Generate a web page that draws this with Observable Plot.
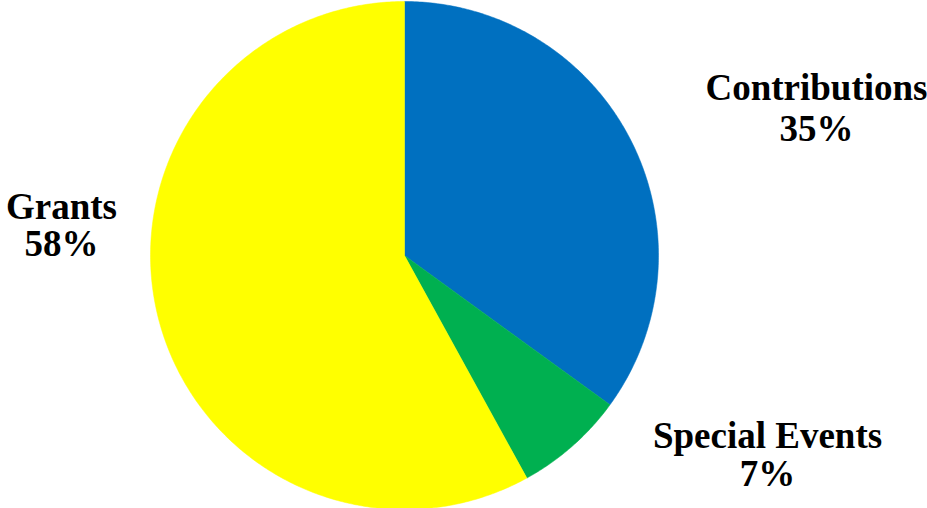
<!DOCTYPE html>
<html>
<head>
<meta charset="utf-8">
<script src="https://cdn.jsdelivr.net/npm/d3@7"></script>
<script src="https://cdn.jsdelivr.net/npm/@observablehq/plot@0.6"></script>
<style>
  html, body { margin: 0; padding: 0; background: #fff; }
  #chart { width: 927px; height: 508px; overflow: hidden; }
  #chart svg text, #chart svg tspan { font-family: "Liberation Serif", "Times New Roman", serif !important; font-weight: bold !important; }
</style>
</head>
<body>
<div id="chart"></div>
<script>
// ---- data ----
const categories = ["Contributions", "Special Events", "Grants"];
const shares = [35, 7, 58];
const colors = ["#0070C0", "#00B050", "#FFFF00"];

// ---- layout (pixels) ----
const W = 927, H = 508;
const cx = 404, cy = 255, R = 254;
const labelLayout = {
  "Contributions":  { x: 816, name: 99,  pct: 140 },
  "Special Events": { x: 767, name: 447, pct: 485 },
  "Grants":         { x: 61,  name: 218, pct: 255 }
};
const ux = px => (px - cx) / R;
const uy = py => (cy - py) / R;

// ---- slices from data ----
const pie = d3.pie().sort(null).value(d => d.value);
const arcs = pie(categories.map((c, i) => ({ category: c, value: shares[i] })));
const points = [];
for (const a of arcs) {
  const cat = a.data.category;
  points.push({ category: cat, x: 0, y: 0 });
  const n = Math.max(4, Math.ceil((a.endAngle - a.startAngle) / 0.01));
  for (let k = 0; k <= n; k++) {
    const t = a.startAngle + (a.endAngle - a.startAngle) * k / n;
    points.push({ category: cat, x: Math.sin(t), y: Math.cos(t) });
  }
  points.push({ category: cat, x: 0, y: 0 });
}

const labels = arcs.map(a => {
  const L = labelLayout[a.data.category];
  return {
    category: a.data.category,
    pct: `${a.data.value}%`,
    x: ux(L.x), yName: uy(L.name), yPct: uy(L.pct)
  };
});

const font = "Liberation Serif";

const chart = Plot.plot({
  width: W,
  height: H,
  margin: 0,
  style: { background: "#fff", overflow: "hidden", fontFamily: "Liberation Serif" },
  x: { domain: [-1, 1], range: [cx - R, cx + R], axis: null },
  y: { domain: [-1, 1], range: [cy + R, cy - R], axis: null },
  color: { domain: categories, range: colors },
  marks: [
    Plot.line(points, { x: "x", y: "y", z: "category", fill: "category", stroke: "category", strokeWidth: 0.5, curve: "linear" }),
    Plot.text(labels, { x: "x", y: "yName", text: "category", lineAnchor: "bottom", fontSize: 37, fontWeight: "bold", fontFamily: font, fill: "#000" }),
    Plot.text(labels, { x: "x", y: "yPct", text: "pct", lineAnchor: "bottom", fontSize: 37, fontWeight: "bold", fontFamily: font, fill: "#000" })
  ]
});
document.getElementById("chart").appendChild(chart);
</script>
</body>
</html>
